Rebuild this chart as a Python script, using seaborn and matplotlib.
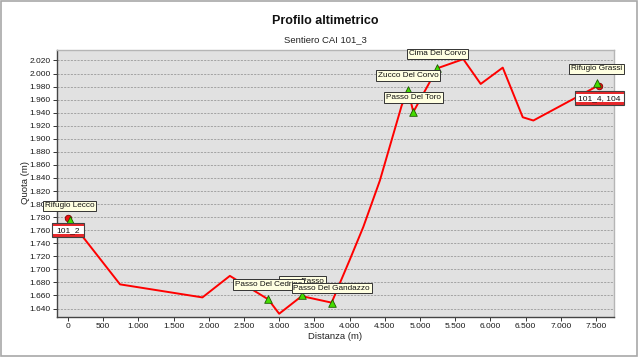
import numpy as np
import pandas as pd
import matplotlib
matplotlib.use("Agg")
import matplotlib.pyplot as plt
import seaborn as sns
from matplotlib.ticker import FuncFormatter
from matplotlib.offsetbox import DrawingArea, AnnotationBbox
from matplotlib.patches import Rectangle
from matplotlib.text import Text

# ---- data ----
profile_dist = [0, 740, 1910, 2300, 2845, 3000, 3320, 3745, 4000, 4195, 4430,
                4740, 4830, 4905, 5246, 5615, 5862, 6175, 6459, 6610, 7540]
profile_elev = [1779, 1677, 1657, 1690, 1654, 1632, 1659, 1649, 1714, 1765, 1836,
                1951, 1975, 1941, 2008, 2022, 1984, 2009, 1933, 1928, 1982]

wp_names = ["         Passo", "Rifugio Lecco", "Passo Del Cedrino", "Passo Del Gandazzo",
            "Zucco Del Corvo", "Passo Del Toro", "Cima Del Corvo", "Rifugio Grassi"]
wp_dist = [3330, 25, 2845, 3745, 4830, 4905, 5246, 7510]
wp_elev = [1660, 1775, 1655, 1649, 1975, 1941, 2008, 1985]

junc_names = ["101_2", "101_4, 104"]
junc_dist = [0, 7547]
junc_elev = [1779, 1981]

title = "Profilo altimetrico"
subtitle = "Sentiero CAI 101_3"
xlabel = "Distanza (m)"
ylabel = "Quota (m)"
yticks = list(range(1640, 2021, 20))
xticks = list(range(0, 7501, 500))

# ---- style ----
sns.set_theme(style="white")
plt.rcParams["font.family"] = ["Liberation Sans", "DejaVu Sans"]

W, H = 640, 357
fig = plt.figure(figsize=(W / 100, H / 100), dpi=100)
ax = fig.add_axes([57 / W, 1 - 317 / H, (614 - 57) / W, (317 - 50) / H])
ax.set_facecolor("#e1e1e1")

df = pd.DataFrame({"dist": profile_dist, "elev": profile_elev})
sns.lineplot(data=df, x="dist", y="elev", ax=ax, color="#ff0000", linewidth=1.4,
             sort=False, estimator=None, zorder=3)

wp = pd.DataFrame({"dist": wp_dist, "elev": wp_elev, "name": wp_names})
sns.scatterplot(data=wp, x="dist", y="elev", ax=ax, marker="^", s=30,
                color="#44dd00", edgecolor="#1a5a00", linewidth=0.6, zorder=5)
jc = pd.DataFrame({"dist": junc_dist, "elev": junc_elev, "name": junc_names})
sns.scatterplot(data=jc, x="dist", y="elev", ax=ax, marker="o", s=22,
                color="#ee1111", edgecolor="#800000", linewidth=0.6, zorder=4)

ax.set_xlim(-155, 7755)
ax.set_ylim(1627, 2036)
ax.set_yticks(yticks)
ax.set_xticks(xticks)
fmt = FuncFormatter(lambda v, p: f"{v:,.0f}".replace(",", "."))
ax.xaxis.set_major_formatter(fmt)
ax.yaxis.set_major_formatter(fmt)
ax.tick_params(axis="both", labelsize=6.0, length=3, width=0.7, color="#333333",
               pad=1.5, labelcolor="#1a1a1a", direction="out", left=True, bottom=True)
ax.grid(axis="y", color="#9a9a9a", linestyle=(0, (2.5, 1.5)), linewidth=0.6)
ax.grid(axis="x", visible=False)
ax.set_axisbelow(True)
for s in ["left", "bottom"]:
    ax.spines[s].set_color("#444444")
    ax.spines[s].set_linewidth(1.0)
for s in ["top", "right"]:
    ax.spines[s].set_color("#b5b5b5")
    ax.spines[s].set_linewidth(1.0)

ax.set_xlabel(xlabel, fontsize=6.8, color="#222222")
ax.set_ylabel(ylabel, fontsize=6.8, color="#222222")
ax.xaxis.set_label_coords((335 - 57) / (614 - 57), -(332 - 317) / (317 - 50))
ax.yaxis.set_label_coords(-(57 - 30) / (614 - 57), (317 - 183) / (317 - 50))

fig.text(325 / W, 1 - 21 / H, title, ha="center", va="center", fontsize=9,
         fontweight="bold", color="#111111")
fig.text(325 / W, 1 - 39.5 / H, subtitle, ha="center", va="center", fontsize=6.8,
         color="#222222")

# waypoint labels (cream tooltip boxes)
for n, x, y in zip(wp_names, wp_dist, wp_elev):
    ax.annotate(n, (x, y), xytext=(0, 10.4), textcoords="offset points",
                ha="center", va="center", fontsize=5.9, color="#111111",
                annotation_clip=False, zorder=10,
                bbox=dict(boxstyle="square,pad=0.22", fc="#ffffe1", ec="#333333", lw=0.7))

# junction labels (red banded boxes)
box_w = {"101_2": 22.8, "101_4, 104": 34.8}
for n, x, y in zip(junc_names, junc_dist, junc_elev):
    w = box_w[n]
    h = 10.6
    b = 2.3
    da = DrawingArea(w, h, 0, 0)
    da.add_artist(Rectangle((0, 0), w, h, fc="white", ec="none"))
    da.add_artist(Rectangle((0, h - b), w, b, fc="#e8282b", ec="none"))
    da.add_artist(Rectangle((0, 0), w, b, fc="#e8282b", ec="none"))
    da.add_artist(Rectangle((0, 0), w, h, fc="none", ec="#404040", lw=0.8))
    da.add_artist(Text(w / 2, h / 2 - 0.3, n, ha="center", va="center",
                       fontsize=6.0, color="#111111",
                       family=["Liberation Sans", "DejaVu Sans"]))
    ab = AnnotationBbox(da, (x, y), xybox=(0, -8.8), boxcoords="offset points",
                        frameon=False, pad=0, box_alignment=(0.5, 0.5),
                        annotation_clip=False, zorder=8)
    ax.add_artist(ab)

fig.patches.append(Rectangle((0.002, 0.004), 0.994, 0.992, transform=fig.transFigure,
                             fill=False, ec="#a8a8a8", lw=1.2))

fig.savefig("out.png", dpi=100)
